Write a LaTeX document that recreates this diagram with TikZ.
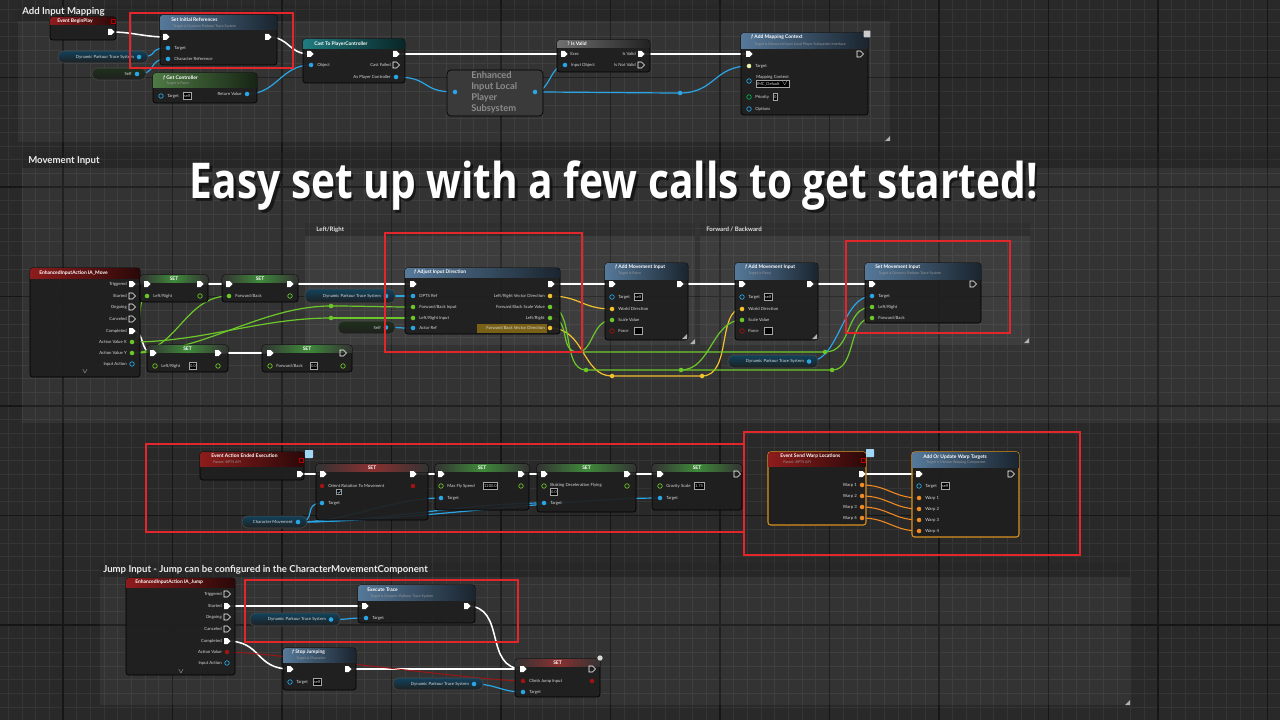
\documentclass[tikz,border=0pt]{standalone}
\usepackage{graphicx}
\usepackage{fontspec}
\setmainfont{Lato}
\newfontfamily\bigfont{Open Sans}
\usetikzlibrary{fit}
\definecolor{bgc}{HTML}{292929}
\definecolor{gridminor}{HTML}{353535}
\definecolor{gridmajor}{HTML}{161616}
\definecolor{wblue}{HTML}{2aa6e6}
\definecolor{wgreen}{HTML}{6cc82a}
\definecolor{wyellow}{HTML}{f2c12e}
\definecolor{wred}{HTML}{a01414}
\definecolor{worange}{HTML}{f08a24}
\definecolor{orb}{HTML}{d9901f}
\definecolor{hred}{HTML}{8e1c1c}
\definecolor{hblue}{HTML}{56799a}
\definecolor{hgreen}{HTML}{4e7a45}
\definecolor{hteal}{HTML}{1f7b80}
\definecolor{hgray}{HTML}{707070}
\definecolor{sgreen}{HTML}{3f8a3a}
\definecolor{sred}{HTML}{8a3030}
\definecolor{rbox}{HTML}{e3262b}
\definecolor{pintgt}{HTML}{e9f2a8}
\definecolor{eisgray}{HTML}{3a3a3a}
\pgfdeclarelayer{gridl}\pgfdeclarelayer{wirel}\pgfsetlayers{gridl,wirel,main}
\tikzset{
 bpbody/.style={draw=black, fill=black!88, fill opacity=0.93, rounded corners=2pt, inner sep=0pt, line width=0.5pt},
 dpin/.style={circle, inner sep=0pt, minimum size=3.4pt},
 lbl/.style={font=\fontsize{3.2}{3.6}\selectfont, text=white!85!black, inner sep=0pt, anchor=west},
 ttl/.style={font=\bfseries\fontsize{3.7}{4}\selectfont, text=white, inner sep=0pt, anchor=west},
 sub/.style={font=\fontsize{2.7}{3}\selectfont, text=white!60!black, inner sep=0pt, anchor=west},
 sect/.style={font=\bfseries\fontsize{7.2}{8}\selectfont, text=white!92!black, inner sep=0pt, anchor=west},
 subsect/.style={font=\bfseries\fontsize{4.6}{5}\selectfont, text=white!88!black, inner sep=0pt, anchor=west},
 execw/.style={draw=white, line width=1.15pt, line cap=round},
 bluew/.style={draw=wblue, line width=0.9pt, line cap=round},
 greenw/.style={draw=wgreen, line width=0.9pt, line cap=round},
 yelw/.style={draw=wyellow, line width=0.9pt, line cap=round},
 redw/.style={draw=wred, line width=0.7pt},
 orw/.style={draw=worange, line width=0.8pt},
 redbox/.style={draw=rbox, line width=1.7pt},
 hb/.style={draw=wblue, line width=0.5pt},
 hg/.style={draw=wgreen, line width=0.5pt},
 hr/.style={draw=wred, line width=0.5pt},
 hollowx/.style={draw=white, line width=0.45pt},
 valbox/.style={draw=white!65!black, line width=0.3pt, fill=black, inner sep=0.7pt, font=\fontsize{3}{3.4}\selectfont, text=white!85!black, anchor=west, minimum height=5pt},
}
\newcounter{lblc}
\newcommand{\Body}[6][]{\node[bpbody,#1,fit={(#3,#4) (#5,#6)}] (#2) {};}
\newcommand{\Head}[5]{\begin{scope}\clip[rounded corners=2pt] (#1,#2) rectangle (#3,#4+6);\shade[left color=#5, right color=#5!30!black] (#1,#2) rectangle (#3,#4);\end{scope}}
\newcommand{\SHead}[5]{\begin{scope}\clip[rounded corners=2pt] (#1,#2) rectangle (#3,#4+6);\shade[left color=black!80, right color=black!80, middle color=#5] (#1,#2) rectangle (#3,#4);\end{scope}}
\newcommand{\XP}[3][fill=white]{\coordinate (#2) at (#3);\path[#1] ([shift={(-3,-3)}]#2) -- ++(3.5,0) -- ++(3,3) -- ++(-3,3) -- ++(-3.5,0) -- cycle;}
\newcommand{\DP}[3][fill=wblue]{\node[dpin,#1] (#2) at (#3) {};}
\newcommand{\Lbl}[3][]{\stepcounter{lblc}\node[lbl,#1] (L\arabic{lblc}) at (#2) {#3};}
\newcommand{\Wr}[4][22]{\begin{pgfonlayer}{wirel}\draw[#2] (#3.center) .. controls ([shift={(#1,0)}]#3.center) and ([shift={(-#1,0)}]#4.center) .. (#4.center);\end{pgfonlayer}}
\newcommand{\Pill}[7]{\shadedraw[rounded corners=4pt, top color=#6!40!black, bottom color=black!88, draw=black!70, line width=0.4pt] (#2,#3) rectangle (#4,#5);
 \node[lbl, anchor=east] (#1T) at (#4-14,{(#3+#5)/2}) {#7};
 \node[dpin, fill=wblue] (#1) at (#4-9,{(#3+#5)/2}) {};}
\newcommand{\Cmt}[6]{\fill[white, fill opacity=0.05] (#2,#3) rectangle (#4,#5);\fill[black, fill opacity=0.22] (#2,#3) rectangle (#4,#6);\coordinate (#1) at (#2,#3);}
\newcommand{\Rsz}[2]{\fill[white!70!black] (#1,#2) -- ++(-5,0) -- ++(5,-5) -- cycle;}
\newcommand{\SetN}[6]{\Body{#1}{#2}{#3}{#4}{#5}\SHead{#2}{#3}{#4}{#3+7}{#6}\node[ttl, anchor=center] (#1T) at ({(#2+#4)/2},#3+3.8) {SET};}
\newcommand{\AMI}[2]{\Body{#1}{#2}{263}{#2+83}{340}\Head{#2}{263}{#2+83}{279}{hblue}
 \node[ttl] (#1T) at (#2+10,267.5) {\textit{f} Add Movement Input};
 \node[sub] (#1S) at (#2+13,274) {Target is Pawn};
 \XP{#1I}{#2+7,284}\XP{#1O}{#2+75,284}
 \DP[hb]{#1Tg}{#2+7,297}\Lbl{#2+13,297}{Target}\Lbl[valbox]{#2+29,297}{self}
 \DP[fill=wyellow]{#1WD}{#2+7,309}\Lbl{#2+13,309}{World Direction}
 \DP[fill=wgreen]{#1SV}{#2+7,320}\Lbl{#2+13,320}{Scale Value}
 \DP[hr]{#1F}{#2+7,331}\Lbl{#2+13,331}{Force}\Lbl[valbox,minimum width=6pt]{#2+29,331}{}
 \Rsz{#2+82}{339}}
\begin{document}
\begin{tikzpicture}[x=0.75pt,y=-0.75pt]
\useasboundingbox (0,0) rectangle (1280,720);
\begin{pgfonlayer}{gridl}
\fill[bgc] (0,0) rectangle (1280,720);
\foreach \k in {0,...,93} \draw[gridminor, line width=0.5pt] ({8.25+13.6875*\k},0) -- ++(0,720);
\foreach \k in {0,...,52} \draw[gridminor, line width=0.5pt] (0,{9.06+13.6875*\k}) -- ++(1280,0);
\foreach \k in {0,...,11} \draw[gridmajor, line width=0.8pt] ({63+109.5*\k},0) -- ++(0,720);
\foreach \k in {0,...,6} \draw[gridmajor, line width=0.8pt] (0,{77.5+109.5*\k}) -- ++(1280,0);
\Cmt{c1}{18}{5}{890}{142}{21}
\Cmt{c2}{22}{152}{1282}{423}{168}
\Cmt{cl}{305}{223}{695}{345}{236}
\Cmt{cf}{700}{223}{1030}{345}{236}
\Cmt{c4}{100}{563}{1130}{705}{577}
\Rsz{890}{141}\Rsz{695}{344}\Rsz{1029}{343}\Rsz{1130}{705}
\end{pgfonlayer}
\node[sect] (s1title) at (22,12) {Add Input Mapping};
\node[sect] (s2title) at (28,161) {Movement Input};
\node[sect] (s4title) at (103,570) {Jump Input - Jump can be configured in the CharacterMovementComponent};
\node[subsect] (cltitle) at (316,229.5) {Left/Right};
\node[subsect] (cftitle) at (706,229.5) {Forward / Backward};
% ===== Section 1 =====
\Body{bp}{50}{17}{116}{40}\Head{50}{17}{116}{25}{hred}
\node[ttl] (bpT) at (57,21) {Event BeginPlay};
\draw[red!70!black, line width=0.5pt] (111,19) rectangle (115,23);
\XP{bpO}{111,32}
\Body{sir}{160}{15}{277}{65}\Head{160}{15}{277}{30}{hblue}
\node[ttl] (sirT) at (171,20) {Set Initial References};
\node[sub] (sirS) at (173,26.5) {Target is Dynamic Parkour Trace System};
\XP{sirI}{166,37}\XP{sirO}{268,37}
\DP{sirTg}{168,48}\Lbl{174,48}{Target}
\DP{sirCR}{168,59}\Lbl{174,59}{Character Reference}
\Pill{p1}{58}{51}{148}{63}{wblue}{Dynamic Parkour Trace System}
\Pill{p2}{92}{68}{146}{80}{hgreen}{Self}
\Body{gc}{153}{73}{257}{103}\Head{153}{73}{257}{88}{hgreen}
\node[ttl] (gcT) at (163,77.5) {\textit{f} Get Controller};
\node[sub] (gcS) at (166,84) {Target is Pawn};
\DP[hb]{gcTg}{161,96}\Lbl{167,96}{Target}\Lbl[valbox]{183,96}{self}
\DP{gcRV}{247,94}\Lbl[anchor=east]{242,94}{Return Value}
\Body{cast}{303}{39}{405}{83}\Head{303}{39}{405}{49}{hteal}
\node[ttl] (castT) at (314,44) {Cast To PlayerController};
\XP{castI}{310,54}\XP{castO}{396,54}
\DP{castOb}{311,65}\Lbl{317,65}{Object}
\XP[hollowx]{castF}{396,65}\Lbl[anchor=east]{391,65}{Cast Failed}
\DP{castPC}{396,77}\Lbl[anchor=east]{391,77}{As Player Controller}
\node[fit={(447,70) (543,116)}, inner sep=0pt, rounded corners=3pt, fill=eisgray, draw=black, line width=0.5pt] (eis) {};
\node[font=\bfseries\fontsize{7}{8.2}\selectfont, text=white!55!black, align=left, anchor=north west, inner sep=0pt] (eisT) at (471,71.5) {Enhanced\\Input Local\\Player\\Subsystem};
\DP{eisI}{455,92}\DP{eisO}{535,92}
\Body{iv}{557}{40}{650}{72}\Head{557}{40}{650}{48}{hgray}
\node[ttl] (ivT) at (567,44) {? Is Valid};
\XP{ivI}{564,54}\Lbl{570,54}{Exec}
\DP{ivIO}{565,65}\Lbl{571,65}{Input Object}
\XP{ivV}{641,54}\Lbl[anchor=east]{636,54}{Is Valid}
\XP[hollowx]{ivN}{641,65}\Lbl[anchor=east]{636,65}{Is Not Valid}
\Body{amc}{741}{33}{868}{115}\Head{741}{33}{868}{49}{hblue}
\node[ttl] (amcT) at (751,37.5) {\textit{f} Add Mapping Context};
\node[sub] (amcS) at (754,44.5) {Target is Enhanced Input Local Player Subsystem Interface};
\XP{amcI}{749,54}\XP[hollowx]{amcO}{860,54}
\DP[fill=pintgt]{amcTg}{749,66}\Lbl{755,66}{Target}
\DP[hb]{amcMC}{749,81}\Lbl{756,77}{Mapping Context}\Lbl[valbox]{756,83.5}{IMC\_Default\ \ $\vee$}
\DP[draw=teal!60!green, line width=0.5pt]{amcP}{749,97}\Lbl{755,97}{Priority}\Lbl[valbox]{773,97}{0}
\DP[hb]{amcOp}{749,109}\Lbl{755,109}{Options}
\node[fill=white!80!black, rounded corners=0.5pt, minimum size=5pt, inner sep=0pt] (amcIc) at (867,34) {};
\node[dpin, fill=wblue] (rr1) at (680,93) {};
\Wr{execw}{bpO}{sirI}
\Wr{execw}{sirO}{castI}
\Wr[40]{execw}{castO}{ivI}
\Wr[40]{execw}{ivV}{amcI}
\Wr{bluew}{p1}{sirTg}
\Wr{bluew}{p2}{sirCR}
\Wr[30]{bluew}{gcRV}{castOb}
\Wr[35]{bluew}{castPC}{eisI}
\Wr[15]{bluew}{eisO}{ivIO}
\Wr{bluew}{eisO}{rr1}
\Wr[35]{bluew}{rr1}{amcTg}
% ===== Section 2 =====
\Body{iam}{30}{268}{140}{377}\Head{30}{268}{140}{278}{hred}
\node[ttl] (iamT) at (39,273) {EnhancedInputAction IA\_Move};
\XP{iamTr}{132,284}\Lbl[anchor=east]{127,284}{Triggered}
\XP[hollowx]{iamSt}{132,296}\Lbl[anchor=east]{127,296}{Started}
\XP[hollowx]{iamOn}{132,307}\Lbl[anchor=east]{127,307}{Ongoing}
\XP[hollowx]{iamCa}{132,319}\Lbl[anchor=east]{127,319}{Canceled}
\XP{iamCo}{132,331}\Lbl[anchor=east]{127,331}{Completed}
\DP[fill=wgreen]{iamX}{132,342}\Lbl[anchor=east]{127,342}{Action Value X}
\DP[fill=wgreen]{iamY}{132,353}\Lbl[anchor=east]{127,353}{Action Value Y}
\DP[hb]{iamIA}{132,364}\Lbl[anchor=east]{127,364}{Input Action}
\Lbl[anchor=center]{85,372}{$\vee$}
\SetN{sa}{140}{275}{208}{302}{sgreen}
\XP{saI}{147,284}\XP{saO}{200,284}
\DP[fill=wgreen]{saV}{147,296}\Lbl{153,296}{Left/Right}\DP[hg]{saVo}{200,296}
\SetN{sb}{222}{275}{298}{302}{sgreen}
\XP{sbI}{229,284}\XP{sbO}{290,284}
\DP[fill=wgreen]{sbV}{229,296}\Lbl{235,296}{Forward/Back}\DP[hg]{sbVo}{290,296}
\SetN{sc}{147}{345}{228}{372}{sgreen}
\XP{scI}{153,353}\XP{scO}{218,353}
\DP[hg]{scV}{155,366}\Lbl{161,366}{Left/Right}\Lbl[valbox]{189,366}{0.0}\DP[hg]{scVo}{218,366}
\SetN{sd}{262}{345}{352}{372}{sgreen}
\XP{sdI}{270,353}\XP[hollowx]{sdO}{343,353}
\DP[hg]{sdV}{270,366}\Lbl{276,366}{Forward/Back}\Lbl[valbox]{310,366}{0.0}\DP[hg]{sdVo}{343,366}
\Pill{p3}{305}{289}{395}{303}{wblue}{Dynamic Parkour Trace System}
\Pill{p4}{338}{321}{395}{334}{hgreen}{Self}
\Body{aid}{405}{268}{560}{334}\Head{405}{268}{560}{277}{hblue}
\node[ttl] (aidT) at (414,272.5) {\textit{f} Adjust Input Direction};
\XP{aidI}{413,284}\XP{aidO}{551,284}
\DP{aidR}{413,296}\Lbl{419,296}{DPTS Ref}
\DP[fill=wgreen]{aidFB}{413,307}\Lbl{419,307}{Forward/Back Input}
\DP[fill=wgreen]{aidLR}{413,318}\Lbl{419,318}{Left/Right Input}
\DP{aidA}{413,328}\Lbl{419,328}{Actor Ref}
\DP[fill=wyellow]{aidLV}{550,296}\Lbl[anchor=east]{545,296}{Left/Right Vector Direction}
\DP[fill=wgreen]{aidFS}{550,307}\Lbl[anchor=east]{545,307}{Forward/Back Scale Value}
\DP[fill=wgreen]{aidLo}{550,318}\Lbl[anchor=east]{545,318}{Left/Right}
\fill[wyellow!50!black] (477,324) rectangle (547,332.5);
\DP[fill=wyellow]{aidFV}{550,328}\Lbl[anchor=east]{545,328}{Forward/Back Vector Direction}
\AMI{ma}{605}
\AMI{mb}{735}
\Body{smi}{865}{263}{981}{323}\Head{865}{263}{981}{279}{hblue}
\node[ttl] (smiT) at (875,267.5) {Set Movement Input};
\node[sub] (smiS) at (878,274) {Target is Dynamic Parkour Trace System};
\XP{smiI}{872,284}\XP[hollowx]{smiO}{973,284}
\DP{smiTg}{872,296}\Lbl{878,296}{Target}
\DP[fill=wgreen]{smiLR}{872,307}\Lbl{878,307}{Left/Right}
\DP[fill=wgreen]{smiFB}{872,318}\Lbl{878,318}{Forward/Back}
\Pill{p5}{728}{355}{818}{368}{wblue}{Dynamic Parkour Trace System}
\node[dpin, fill=wgreen] (rfb) at (331,306) {};
\node[dpin, fill=wgreen] (rlr) at (331,318) {};
\node[dpin, fill=wyellow] (ry1) at (612,376) {};
\node[dpin, fill=wyellow] (ry2) at (702,376) {};
\node[dpin, fill=wgreen] (rg1) at (586,370) {};
\node[dpin, fill=wgreen] (rg2) at (681,370) {};
\node[dpin, fill=wgreen] (rg3) at (832,370) {};
\node[dpin, fill=wgreen] (rg5) at (825,352) {};
\coordinate (rg4) at (578,352);
\Wr{execw}{iamTr}{saI}
\Wr{execw}{saO}{sbI}
\Wr[40]{execw}{sbO}{aidI}
\Wr{execw}{aidO}{maI}
\Wr{execw}{maO}{mbI}
\Wr{execw}{mbO}{smiI}
\Wr[14]{execw}{iamCo}{scI}
\Wr{execw}{scO}{sdI}
\Wr[12]{greenw}{iamX}{saV}
\Wr[45]{greenw}{iamY}{sbV}
\Wr[70]{greenw}{iamY}{rfb}
\Wr[30]{greenw}{rfb}{aidFB}
\Wr[70]{greenw}{iamX}{rlr}
\Wr[30]{greenw}{rlr}{aidLR}
\Wr{bluew}{p3}{aidR}
\Wr{bluew}{p4}{aidA}
\Wr[30]{yelw}{aidLV}{maWD}
\begin{pgfonlayer}{wirel}
\draw[yelw] (aidFV.center) .. controls +(35,0) and +(-30,0) .. (ry1.center) -- (ry2.center) .. controls +(30,0) and +(-25,0) .. (mbWD.center);
\draw[greenw] (aidFS.center) .. controls +(25,0) and +(-25,0) .. (rg1.center) -- (rg2.center) .. controls +(30,0) and +(-30,0) .. (mbSV.center);
\draw[greenw] (rg2.center) -- (rg3.center) .. controls +(25,0) and +(-25,0) .. (smiFB.center);
\draw[greenw] (aidLo.center) .. controls +(22,0) and +(-20,0) .. (rg4) -- (rg5.center) .. controls +(28,0) and +(-28,0) .. (smiLR.center);
\draw[greenw] (rg4) .. controls +(15,0) and +(-20,0) .. (maSV.center);
\end{pgfonlayer}
\Wr[30]{bluew}{p5}{smiTg}
% ===== Section 3 =====
\Body{eae}{200}{452}{304}{480}\Head{200}{452}{304}{466}{hred}
\node[ttl] (eaeT) at (211,456) {Event Action Ended Execution};
\node[sub] (eaeS) at (213,462) {Parent: BPTS API};
\draw[red!70!black, line width=0.5pt] (299,458) rectangle (303,462);
\XP{eaeO}{300,474}
\node[fill=wblue!45!white, rounded corners=0.5pt, minimum size=6pt, inner sep=0pt] (eaeIc) at (309,454) {};
\SetN{s1}{316}{464}{428}{520}{sred}
\XP{s1I}{323,474}\XP{s1O}{413,474}
\DP[fill=wred]{s1V}{322,486}\Lbl{328,486}{Orient Rotation To Movement}
\node[draw=white!60!black, fill=black, minimum size=4pt, inner sep=0pt] (s1cb) at (339,492) {};
\draw[wblue!60!white, line width=0.4pt] (337.5,492) -- (338.7,493.3) -- (341,490.5);
\DP[fill=wred]{s1Vo}{413,486}
\DP{s1Tg}{322,503}\Lbl{328,503}{Target}
\SetN{s2}{435}{464}{529}{510}{sgreen}
\XP{s2I}{441,474}\XP{s2O}{521,474}
\DP[hg]{s2V}{441,486}\Lbl{447,486}{Max Fly Speed}\Lbl[valbox]{483,486}{1200.0}\DP[hg]{s2Vo}{521,486}
\DP{s2Tg}{441,498}\Lbl{447,498}{Target}
\SetN{s3}{537}{464}{636}{512}{sgreen}
\XP{s3I}{544,474}\XP{s3O}{627,474}
\DP[hg]{s3V}{544,486}\Lbl{550,485}{Braking Deceleration Flying}\Lbl[valbox]{550,492}{0.0}\DP[hg]{s3Vo}{627,486}
\DP{s3Tg}{544,503}\Lbl{550,503}{Target}
\SetN{s4}{652}{464}{742}{510}{sgreen}
\XP{s4I}{660,474}\XP[hollowx]{s4O}{737,474}
\DP[hg]{s4V}{660,486}\Lbl{666,486}{Gravity Scale}\Lbl[valbox]{694,486}{1.75}
\DP{s4Tg}{660,498}\Lbl{666,498}{Target}
\Pill{p6}{242}{516}{307}{528}{wblue}{Character Movement}
\Wr{execw}{eaeO}{s1I}
\Wr{execw}{s1O}{s2I}
\Wr{execw}{s2O}{s3I}
\Wr{execw}{s3O}{s4I}
\Wr[20]{bluew}{p6}{s1Tg}
\Wr[50]{bluew}{p6}{s2Tg}
\Wr[80]{bluew}{p6}{s3Tg}
\Wr[100]{bluew}{p6}{s4Tg}
\Body[draw=orb, line width=0.8pt]{esw}{768}{452}{866}{525}\Head{768}{452}{866}{466}{hred}
\node[ttl] (eswT) at (780,456) {Event Send Warp Locations};
\node[sub] (eswS) at (783,462) {Parent: BPTS API};
\draw[red!70!black, line width=0.5pt] (861,458) rectangle (865,462);
\node[fill=wblue!45!white, rounded corners=0.5pt, minimum size=6pt, inner sep=0pt] (eswIc) at (870,453) {};
\XP{eswO}{862,474}
\DP[fill=worange]{ew1}{862,485}\Lbl[anchor=east]{857,485}{Warp 1}
\DP[fill=worange]{ew2}{862,496}\Lbl[anchor=east]{857,496}{Warp 2}
\DP[fill=worange]{ew3}{862,507}\Lbl[anchor=east]{857,507}{Warp 3}
\DP[fill=worange]{ew4}{862,518}\Lbl[anchor=east]{857,518}{Warp 4}
\Body[draw=orb, line width=0.8pt]{auw}{912}{452}{1019}{537}\Head{912}{452}{1019}{467}{hblue}
\node[ttl] (auwT) at (923,457) {Add Or Update Warp Targets};
\node[sub] (auwS) at (926,463) {Target is Motion Warping Component};
\XP{auwI}{919,474}\XP[hollowx]{auwO}{1011,474}
\DP[hb]{auwTg}{919,486}\Lbl{925,486}{Target}\Lbl[valbox]{941,486}{self}
\DP[fill=worange]{aw1}{919,498}\Lbl{925,498}{Warp 1}
\DP[fill=worange]{aw2}{919,509}\Lbl{925,509}{Warp 2}
\DP[fill=worange]{aw3}{919,520}\Lbl{925,520}{Warp 3}
\DP[fill=worange]{aw4}{919,531}\Lbl{925,531}{Warp 4}
\Wr{execw}{eswO}{auwI}
\Wr[25]{orw}{ew1}{aw1}
\Wr[25]{orw}{ew2}{aw2}
\Wr[25]{orw}{ew3}{aw3}
\Wr[25]{orw}{ew4}{aw4}
% ===== Section 4 =====
\Body{iaj}{126}{578}{235}{675}\Head{126}{578}{235}{587}{hred}
\node[ttl] (iajT) at (135,582.5) {EnhancedInputAction IA\_Jump};
\XP[hollowx]{ijTr}{227,594}\Lbl[anchor=east]{222,594}{Triggered}
\XP{ijSt}{227,606}\Lbl[anchor=east]{222,606}{Started}
\XP[hollowx]{ijOn}{227,617}\Lbl[anchor=east]{222,617}{Ongoing}
\XP[hollowx]{ijCa}{227,629}\Lbl[anchor=east]{222,629}{Canceled}
\XP{ijCo}{227,641}\Lbl[anchor=east]{222,641}{Completed}
\DP[fill=wred]{ijAV}{227,652}\Lbl[anchor=east]{222,652}{Action Value}
\DP[hb]{ijIA}{227,663}\Lbl[anchor=east]{222,663}{Input Action}
\Lbl[anchor=center]{181,672}{$\vee$}
\Body{et}{358}{585}{475}{623}\Head{358}{585}{475}{600}{hblue}
\node[ttl] (etT) at (367,589.5) {Execute Trace};
\node[sub] (etS) at (370,596) {Target is Dynamic Parkour Trace System};
\XP{etI}{365,606}\XP{etO}{467,606}
\DP{etTg}{366,618}\Lbl{372,618}{Target}
\Pill{p7}{250}{613}{340}{626}{wblue}{Dynamic Parkour Trace System}
\Body{sj}{283}{648}{356}{690}\Head{283}{648}{356}{662}{hblue}
\node[ttl] (sjT) at (292,652) {\textit{f} Stop Jumping};
\node[sub] (sjS) at (296,658.5) {Target is Character};
\XP{sjI}{290,669}\XP{sjO}{348,669}
\DP[hb]{sjTg}{290,682}\Lbl{296,682}{Target}\Lbl[valbox]{313,682}{self}
\Pill{p8}{393}{678}{483}{690}{wblue}{Dynamic Parkour Trace System}
\SetN{sjs}{515}{659}{600}{697}{sred}
\XP{sjsI}{523,669}\XP[hollowx]{sjsO}{592,669}
\DP[fill=wred]{sjsV}{523,681}\Lbl{529,681}{Climb Jump Input}\DP[fill=wred]{sjsVo}{592,681}
\DP{sjsTg}{523,692}\Lbl{529,692}{Target}
\node[fill=white!85!black, circle, minimum size=4pt, inner sep=0pt] (sjsIc) at (600,658) {};
\Wr[40]{execw}{ijSt}{etI}
\Wr[35]{execw}{ijCo}{sjI}
\Wr[50]{execw}{sjO}{sjsI}
\Wr[40]{execw}{etO}{sjsI}
\Wr[40]{redw}{ijAV}{sjsV}
\Wr{bluew}{p7}{etTg}
\Wr{bluew}{p8}{sjsTg}
% ===== red highlight boxes =====
\draw[redbox] (130,13) rectangle (293,68);
\draw[redbox] (385,233) rectangle (582,352);
\draw[redbox] (846,241) rectangle (1010,333);
\draw[redbox] (146,444) rectangle (744,532);
\draw[redbox] (744,432) rectangle (1080,555);
\draw[redbox] (245,580) rectangle (518,642);
% ===== headline =====
\node[inner sep=0pt, text=black, opacity=0.55] (bigS) at (616.5,188.5) {\resizebox{636pt}{\height}{\bigfont\bfseries\fontsize{37}{40}\selectfont Easy set up with a few calls to get started!}};
\node[inner sep=0pt, text=white] (big) at (614,186) {\resizebox{636pt}{\height}{\bigfont\bfseries\fontsize{37}{40}\selectfont Easy set up with a few calls to get started!}};
\end{tikzpicture}
\end{document}
